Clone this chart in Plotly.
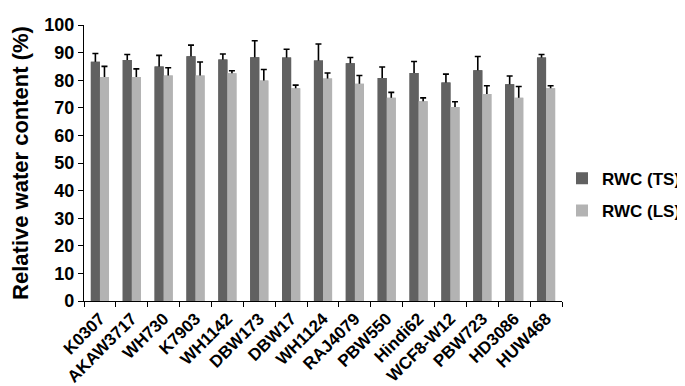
import plotly.graph_objects as go

categories = ["K0307", "AKAW3717", "WH730", "K7903", "WH1142", "DBW173", "DBW17",
              "WH1124", "RAJ4079", "PBW550", "Hindi62", "WCF8-W12", "PBW723",
              "HD3086", "HUW468"]
ts_values = [86.7, 87.3, 85.0, 88.7, 87.5, 88.3, 88.2, 87.1, 86.1, 80.8, 82.6, 79.2, 83.6, 78.5, 88.2]
ts_err = [3.0, 2.0, 4.0, 4.0, 2.0, 6.0, 3.0, 6.0, 2.1, 4.0, 4.2, 3.0, 5.0, 3.0, 1.1]
ls_values = [81.2, 81.2, 81.7, 81.7, 82.5, 79.9, 77.1, 80.6, 78.7, 73.6, 72.4, 70.3, 75.0, 73.6, 77.1]
ls_err = [3.8, 2.9, 2.8, 4.9, 0.9, 4.0, 1.1, 2.0, 3.0, 2.0, 1.2, 1.9, 3.0, 4.1, 0.9]
y_ticks = list(range(0, 101, 10))

font_family = "Liberation Sans, Arial, sans-serif"
ts_color = "#616161"
ls_color = "#b3b3b3"

fig = go.Figure()
# Bars with (symmetric) error bars; the lower half is hidden by the cover bars below,
# so only the upward whisker is visible, as in the original.
for name, vals, errs, color, grp in [("RWC (TS)", ts_values, ts_err, ts_color, "ts"),
                                     ("RWC (LS)", ls_values, ls_err, ls_color, "ls")]:
    fig.add_trace(go.Bar(
        x=categories, y=vals, name="<b>" + name + "</b>", legendgroup=grp,
        offsetgroup=grp,
        marker=dict(color=color, line=dict(width=0)),
        error_y=dict(type="data", array=errs, symmetric=True,
                     color="black", thickness=1.6, width=3),
    ))
for name, vals, color, grp in [("RWC (TS)", ts_values, ts_color, "ts"),
                               ("RWC (LS)", ls_values, ls_color, "ls")]:
    fig.add_trace(go.Bar(
        x=categories, y=vals, name=name, legendgroup=grp, offsetgroup=grp,
        showlegend=False, hoverinfo="skip",
        marker=dict(color=color, line=dict(width=0)),
    ))

fig.update_layout(
    width=685, height=386,
    margin=dict(l=76, r=119, t=7, b=93),
    paper_bgcolor="white", plot_bgcolor="white",
    barmode="group", bargap=0.43, bargroupgap=0,
    font=dict(family=font_family, size=16, color="black"),
    showlegend=True,
    legend=dict(x=1.0, y=0.385, xanchor="left", yanchor="middle",
                font=dict(family=font_family, size=17, color="black"),
                tracegroupgap=7, bgcolor="rgba(0,0,0,0)"),
    xaxis=dict(
        type="category", showline=True, linecolor="black", linewidth=1.2,
        ticks="outside", tickson="boundaries", ticklen=5, tickcolor="black",
        tickangle=-45, showgrid=False,
        tickfont=dict(family=font_family, size=17, color="black", weight="bold"),
    ),
    yaxis=dict(
        range=[0, 100], tickvals=y_ticks, showline=True, linecolor="black",
        linewidth=1.2, ticks="outside", ticklen=5, tickcolor="black",
        showgrid=False, zeroline=False, ticklabeloverflow="allow",
        tickfont=dict(family=font_family, size=18, color="black", weight="bold"),
        title=dict(text="<b>Relative water content (%)</b>",
                   font=dict(family=font_family, size=22, color="black"),
                   standoff=12),
    ),
)

fig.write_html("out.html")
